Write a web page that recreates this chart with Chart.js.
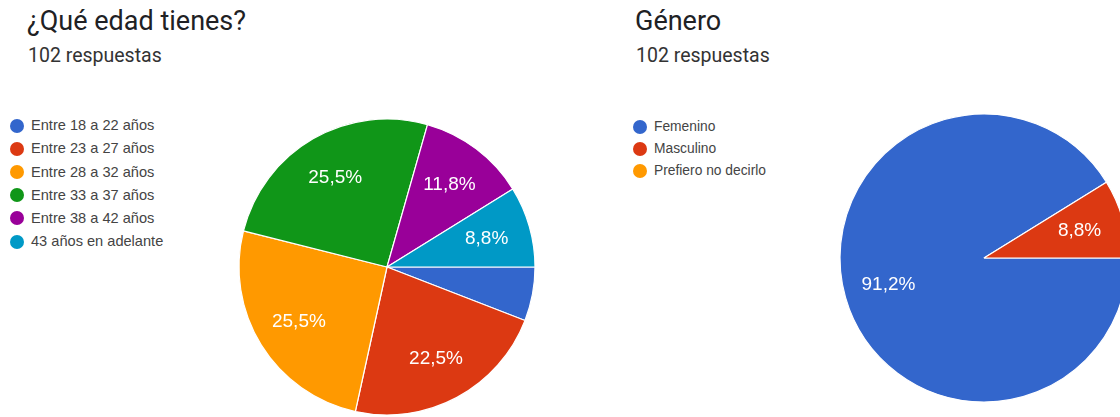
<!DOCTYPE html>
<html lang="es">
<head>
<meta charset="utf-8">
<title>Resumen de respuestas</title>
<script src="https://cdn.jsdelivr.net/npm/chart.js@4.4.1/dist/chart.umd.min.js"></script>
<style>
  html, body { margin: 0; padding: 0; background: #fff; }
  body { width: 1120px; height: 417px; position: relative; overflow: hidden; }
  .titulo { position: absolute; font-family: Roboto, sans-serif; font-size: 27px; line-height: 1; color: #202124; white-space: nowrap; }
  .sub { position: absolute; font-family: Roboto, sans-serif; font-size: 19.5px; line-height: 1; color: #333; white-space: nowrap; }
  .leyenda { position: absolute; font-family: "Liberation Sans", Arial, sans-serif; color: #444; }
  .fila { display: flex; align-items: center; white-space: nowrap; line-height: 1; }
  .punto { width: 14px; height: 14px; border-radius: 50%; flex: none; }
  canvas { position: absolute; }
</style>
</head>
<body>
<div class="titulo" style="left:27px; top:8px;">¿Qué edad tienes?</div>
<div class="sub" style="left:28px; top:46px;">102 respuestas</div>
<div class="leyenda" id="leyendaEdad" style="left:10px; top:114px; font-size:14.6px;"></div>
<canvas id="tortaEdad" width="310" height="310" style="left:232px; top:112px;"></canvas>

<div class="titulo" style="left:635px; top:8px;">Género</div>
<div class="sub" style="left:636px; top:46px;">102 respuestas</div>
<div class="leyenda" id="leyendaGenero" style="left:633px; top:116px; font-size:13.8px;"></div>
<canvas id="tortaGenero" width="310" height="310" style="left:829px; top:103px;"></canvas>

<script>
// Respuestas por rango de edad
const edadLabels = ['Entre 18 a 22 años', 'Entre 23 a 27 años', 'Entre 28 a 32 años',
                    'Entre 33 a 37 años', 'Entre 38 a 42 años', '43 años en adelante'];
const edadCounts = [6, 23, 26, 26, 12, 9];

// Respuestas por género
const generoLabels = ['Femenino', 'Masculino', 'Prefiero no decirlo'];
const generoCounts = [93, 9, 0];

const paleta = ['#3366cc', '#dc3912', '#ff9900', '#109618', '#990099', '#0099c6'];

// Porcentaje de cada porción escrito dentro de ella (coma decimal)
const etiquetasPorcion = {
  id: 'etiquetasPorcion',
  afterDatasetsDraw(chart, args, opts) {
    const ctx = chart.ctx;
    const ds = chart.data.datasets[0];
    const total = ds.data.reduce((a, b) => a + b, 0);
    const meta = chart.getDatasetMeta(0);
    ctx.save();
    ctx.fillStyle = '#fff';
    ctx.font = '19px "Liberation Sans", Arial, sans-serif';
    ctx.textAlign = 'center';
    ctx.textBaseline = 'middle';
    meta.data.forEach((arc, i) => {
      const frac = ds.data[i] / total;
      if (frac < 0.07) return;
      const p = arc.getProps(['x', 'y', 'startAngle', 'endAngle', 'outerRadius'], true);
      const mid = (p.startAngle + p.endAngle) / 2;
      const r = p.outerRadius * opts.factor;
      const txt = (frac * 100).toFixed(1).replace('.', ',') + '%';
      ctx.fillText(txt, p.x + Math.cos(mid) * r, p.y + Math.sin(mid) * r);
    });
    ctx.restore();
  }
};

function leyenda(id, labels, spacing) {
  const el = document.getElementById(id);
  labels.forEach((lab, i) => {
    const fila = document.createElement('div');
    fila.className = 'fila';
    fila.style.height = spacing + 'px';
    const p = document.createElement('span');
    p.className = 'punto';
    p.style.background = paleta[i];
    const t = document.createElement('span');
    t.textContent = lab;
    t.style.marginLeft = '7px';
    fila.appendChild(p);
    fila.appendChild(t);
    el.appendChild(fila);
  });
}

function torta(id, labels, counts, radio, factor) {
  return new Chart(document.getElementById(id), {
    type: 'pie',
    data: {
      labels: labels,
      datasets: [{
        data: counts,
        backgroundColor: paleta.slice(0, counts.length),
        borderColor: '#ffffff',
        borderWidth: 1.2
      }]
    },
    options: {
      responsive: false,
      animation: false,
      events: [],
      rotation: 90,
      radius: radio,
      layout: { padding: 0 },
      plugins: {
        legend: { display: false },
        tooltip: { enabled: false },
        etiquetasPorcion: { factor: factor }
      }
    },
    plugins: [etiquetasPorcion]
  });
}

leyenda('leyendaEdad', edadLabels, 23.2);
leyenda('leyendaGenero', generoLabels, 22);
torta('tortaEdad', edadLabels, edadCounts, 148, 0.7);
torta('tortaGenero', generoLabels, generoCounts, 144, 0.69);
</script>
</body>
</html>
